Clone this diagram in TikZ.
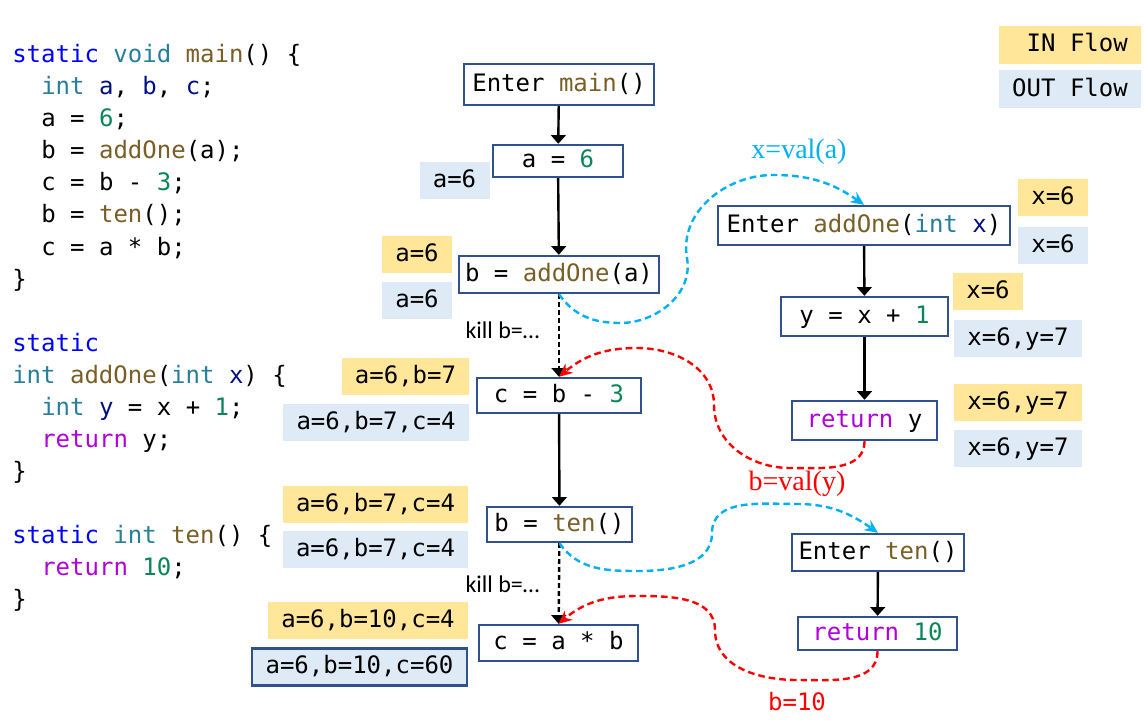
\documentclass[tikz,border=0pt]{standalone}
\usepackage{fontspec}
\setmonofont{DejaVu Sans Mono}
\newfontfamily\killfont{Carlito}
\newfontfamily\valfont{Liberation Serif}
\usepackage{xcolor}
\usepackage{tikz}
\usetikzlibrary{arrows.meta,positioning}
\definecolor{codeBlue}{RGB}{0,0,255}
\definecolor{codeTeal}{RGB}{38,127,153}
\definecolor{codeBrown}{RGB}{121,94,38}
\definecolor{codeGreen}{RGB}{9,134,88}
\definecolor{codeNavy}{RGB}{0,16,128}
\definecolor{codePurple}{RGB}{175,0,219}
\definecolor{boxBlue}{RGB}{47,82,143}
\definecolor{inYellow}{RGB}{255,230,153}
\definecolor{outBlue}{RGB}{222,235,247}
\definecolor{callBlue}{RGB}{0,176,240}
\definecolor{retRed}{RGB}{255,0,0}
\newcommand{\codefont}{\ttfamily\fontsize{18}{22}\selectfont}
\newcommand{\kwd}[1]{\textcolor{codeBlue}{#1}}
\newcommand{\typ}[1]{\textcolor{codeTeal}{#1}}
\newcommand{\cfun}[1]{\textcolor{codeBrown}{#1}}
\newcommand{\cnum}[1]{\textcolor{codeGreen}{#1}}
\newcommand{\vname}[1]{\textcolor{codeNavy}{#1}}
\newcommand{\cret}[1]{\textcolor{codePurple}{#1}}

\begin{document}
\begin{tikzpicture}[x=0.75pt,y=-0.75pt,
  code/.style={anchor=base west, inner sep=0pt, font=\codefont},
  stmt/.style={draw=boxBlue, line width=1.8pt, fill=white, inner sep=0pt, font=\codefont, text height=13pt, text depth=3pt},
  inflow/.style={fill=inYellow, inner xsep=10pt, inner ysep=0pt, minimum height=27.75pt, font=\codefont, text height=13pt, text depth=3pt},
  outflow/.style={inflow, fill=outBlue},
  legend/.style={minimum width=106.5pt, minimum height=28.5pt},
  flow/.style={-{Triangle[length=6.5pt,width=11pt]}, line width=1.8pt},
  killflow/.style={flow, dash pattern=on 3.5pt off 2.5pt},
  callarc/.style={callBlue, line width=1.8pt, dash pattern=on 5pt off 3pt, -{Stealth[length=10pt,width=9pt]}},
  retarc/.style={callarc, retRed},
  killlbl/.style={font=\killfont\fontsize{18}{20}\selectfont, inner sep=0pt},
  vallbl/.style={font=\valfont\fontsize{21}{24}\selectfont, inner sep=0pt}]
\useasboundingbox (0,0) rectangle (1144,727);

% source code
\node[code] (m1) at (12,63) {\kwd{static} \typ{void} \cfun{main}() \{};
\node[code] (m2) at (41,95) {\typ{int} \vname{a}, \vname{b}, \vname{c};};
\node[code] (m3) at (41,127) {a = \cnum{6};};
\node[code] (m4) at (41,159) {b = \cfun{addOne}(a);};
\node[code] (m5) at (41,191) {c = b - \cnum{3};};
\node[code] (m6) at (41,223) {b = \cfun{ten}();};
\node[code] (m7) at (41,255) {c = a * b;};
\node[code] (m8) at (12,287) {\}};
\node[code] (a1) at (12,351) {\kwd{static}};
\node[code] (a2) at (12,383) {\typ{int} \cfun{addOne}(\typ{int} \vname{x}) \{};
\node[code] (a3) at (41,415) {\typ{int} \vname{y} = x + \cnum{1};};
\node[code] (a4) at (41,447) {\cret{return} y;};
\node[code] (a5) at (12,479) {\}};
\node[code] (t1) at (12,543) {\kwd{static} \typ{int} \cfun{ten}() \{};
\node[code] (t2) at (41,575) {\cret{return} \cnum{10};};
\node[code] (t3) at (12,607) {\}};

% legend
\node[inflow, legend] (inleg) at (1070,45) {\hphantom{I}IN Flow};
\node[outflow, legend] (outleg) at (1070,89.5) {OUT Flow};

% main() statements
\node[stmt, minimum width=142.5pt, minimum height=30.75pt] (entmain) at (559,84.5) {Enter \cfun{main}()};
\node[stmt, minimum width=97.5pt, minimum height=24pt] (aeq6) at (558,161) {a = \cnum{6}};
\node[stmt, minimum width=150pt, minimum height=27.75pt] (baddone) at (559,274.5) {b = \cfun{addOne}(a)};
\node[stmt, minimum width=123pt, minimum height=26.25pt] (cbm) at (559,395.5) {c = b - \cnum{3}};
\node[stmt, minimum width=108.75pt, minimum height=26.25pt] (bten) at (559.5,524.5) {b = \cfun{ten}()};
\node[stmt, minimum width=119.25pt, minimum height=27pt] (cab) at (558.5,643) {c = a * b};

% addOne() and ten()
\node[stmt, minimum width=219pt, minimum height=29.25pt] (entadd) at (864,225.5) {Enter \cfun{addOne}(\typ{int} \vname{x})};
\node[stmt, minimum width=125.25pt, minimum height=29.25pt] (yx1) at (864.5,316.5) {y = x + \cnum{1}};
\node[stmt, minimum width=108.75pt, minimum height=29.25pt] (rety) at (864.5,420.5) {\cret{return} y};
\node[stmt, minimum width=129pt, minimum height=27.75pt] (entten) at (878,552.5) {Enter \cfun{ten}()};
\node[stmt, minimum width=119.25pt, minimum height=24.75pt] (ret10) at (877.5,633.5) {\cret{return} \cnum{10}};

% data-flow facts
\node[outflow] (o1) at (454.5,180.5) {a=6};
\node[inflow] (i2) at (417,254.5) {a=6};
\node[outflow] (o2) at (417,300.5) {a=6};
\node[inflow] (i3) at (405.5,376.5) {a=6,b=7};
\node[outflow] (o3) at (376,422.5) {a=6,b=7,c=4};
\node[inflow] (i4) at (375.5,504.5) {a=6,b=7,c=4};
\node[outflow] (o4) at (375.5,549.5) {a=6,b=7,c=4};
\node[inflow] (i5) at (368,620.5) {a=6,b=10,c=4};
\node[outflow, draw=boxBlue, line width=1.8pt] (o5) at (359.5,667) {a=6,b=10,c=60};
\node[inflow] (ix1) at (1053,197.5) {x=6};
\node[outflow] (ox1) at (1053,245.5) {x=6};
\node[inflow] (ix2) at (988,291.5) {x=6};
\node[outflow] (ox2) at (1018,338.5) {x=6,y=7};
\node[inflow] (ix3) at (1018,402.5) {x=6,y=7};
\node[outflow] (ox3) at (1018,448.5) {x=6,y=7};

% control flow
\draw[flow] (entmain) -- (aeq6);
\draw[flow] (aeq6) -- (baddone);
\draw[killflow] (baddone) -- (cbm);
\draw[flow] (cbm) -- (bten);
\draw[killflow] (bten) -- (cab);
\draw[flow] (entadd) -- (yx1);
\draw[flow] (yx1) -- (rety);
\draw[flow] (entten) -- (ret10);
\node[killlbl] (kill1) at (502.5,330) {kill b=…};
\node[killlbl] (kill2) at (502.5,584) {kill b=…};

% calls and returns
\draw[callarc] (baddone.south) to[out=-55,in=180] (620,323) to[out=0,in=-80] (687,258)
  to[out=100,in=180] (773,175) to[out=0,in=145] (entadd.north);
\draw[retarc] (rety.south) to[out=-90,in=0] (790,468) to[out=180,in=-90] (714,405)
  to[out=90,in=0] (637,348) to[out=180,in=40] (cbm.north);
\draw[callarc] (bten.south) to[out=-55,in=180] (637,571) to[out=0,in=-90] (712,533)
  to[out=90,in=180] (797,504) to[out=0,in=145] (entten.north);
\draw[retarc] (ret10.south) to[out=-90,in=0] (797,680) to[out=180,in=-90] (715,630)
  to[out=90,in=0] (637,596) to[out=180,in=40] (cab.north);
\node[vallbl, text=callBlue] (callval) at (799,152) {x=val(a)};
\node[vallbl, text=retRed] (retval) at (797,484) {b=val(y)};
\node[font=\codefont, text=retRed, inner sep=0pt] (retten) at (797,702) {b=10};
\end{tikzpicture}
\end{document}
